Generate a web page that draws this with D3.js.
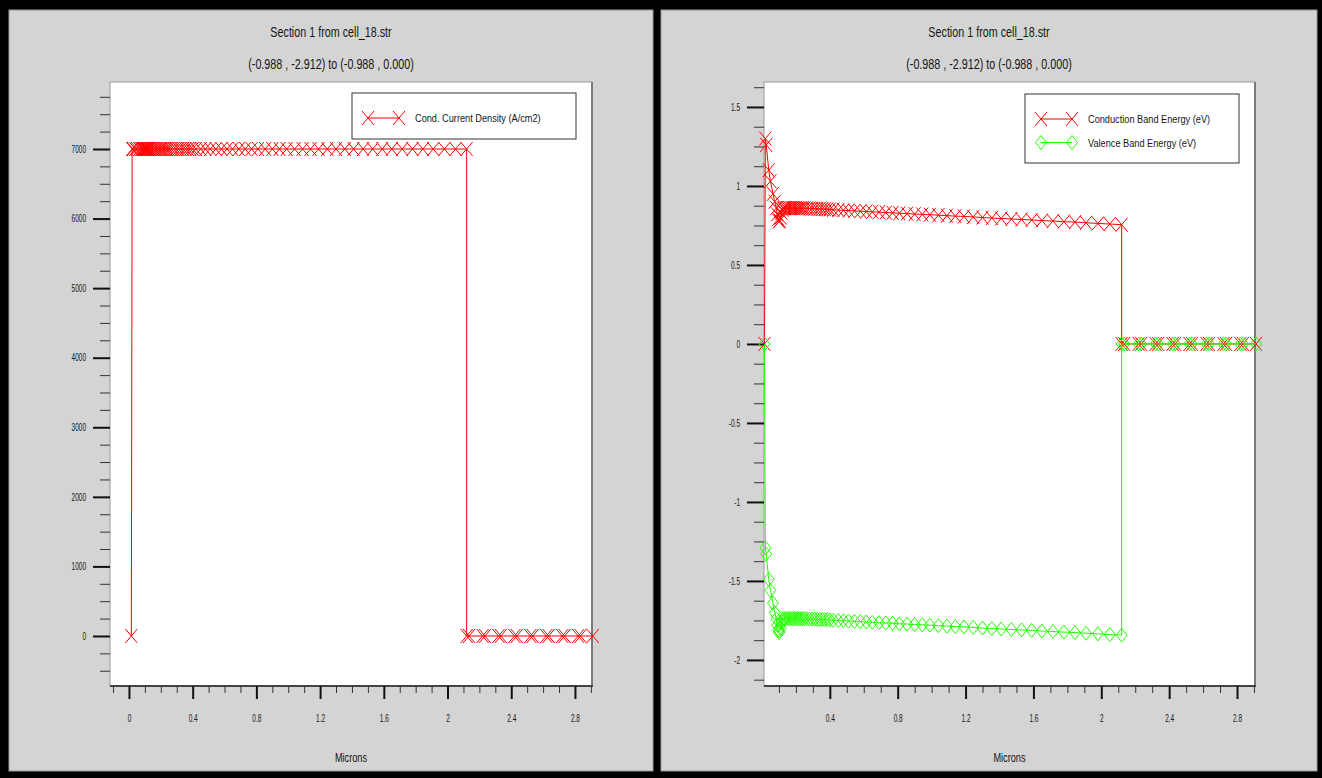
<!DOCTYPE html>
<html>
<head>
<meta charset="utf-8">
<script src="https://cdn.jsdelivr.net/npm/d3@7"></script>
<style>
  html, body { margin: 0; padding: 0; background: #000; }
  svg { display: block; }
</style>
</head>
<body>
<div id="app"></div>
<script>
const width = 1322;
const height = 778;
const font = "'Liberation Sans', Arial, sans-serif";

const title = 'Section 1 from cell_18.str';
const subtitle = '(-0.988 , -2.912) to (-0.988 , 0.000)';
const xLabel = 'Microns';

// positions along the cut line (microns), shared by all three curves
const sectionX = [
  0.015, 0.02, 0.025, 0.04, 0.05, 0.065, 0.075, 0.085, 0.09, 0.095, 0.1, 0.105, 0.11, 0.115, 0.12, 0.125,
  0.13, 0.14, 0.15, 0.16, 0.17, 0.18, 0.19, 0.2, 0.21, 0.22, 0.23, 0.24, 0.25,
  0.265, 0.28, 0.295, 0.31, 0.325, 0.34, 0.355, 0.37, 0.385, 0.4, 0.42,
  0.45, 0.48, 0.51, 0.545, 0.58, 0.615, 0.65, 0.69, 0.73, 0.77, 0.81, 0.855, 0.9, 0.945, 0.99,
  1.04, 1.09, 1.14, 1.19, 1.245, 1.3, 1.355, 1.41, 1.47, 1.53, 1.59, 1.65, 1.715, 1.78, 1.845,
  1.91, 1.98, 2.05, 2.12,
  2.12, 2.135, 2.22, 2.235, 2.32, 2.335, 2.42, 2.435, 2.52, 2.535, 2.62, 2.635, 2.72, 2.735, 2.82, 2.835, 2.912
];

const currentDensity = [
  0, 7000, 7000, 7000, 7000, 7000, 7000, 7000, 7000, 7000, 7000, 7000, 7000, 7000, 7000, 7000,
  7000, 7000, 7000, 7000, 7000, 7000, 7000, 7000, 7000, 7000, 7000, 7000, 7000,
  7000, 7000, 7000, 7000, 7000, 7000, 7000, 7000, 7000, 7000, 7000,
  7000, 7000, 7000, 7000, 7000, 7000, 7000, 7000, 7000, 7000, 7000, 7000, 7000, 7000, 7000,
  7000, 7000, 7000, 7000, 7000, 7000, 7000, 7000, 7000, 7000, 7000, 7000, 7000, 7000, 7000,
  7000, 7000, 7000, 7000,
  0, 0, 0, 0, 0, 0, 0, 0, 0, 0, 0, 0, 0, 0, 0, 0, 0
];

const conductionBand = [
  0, 1.30, 1.26, 1.10, 1.03, 0.95, 0.90, 0.86, 0.82, 0.79, 0.775, 0.78, 0.80, 0.83, 0.85, 0.858,
  0.860, 0.860, 0.860, 0.860, 0.860, 0.860, 0.860, 0.860, 0.859, 0.859, 0.859, 0.859, 0.859,
  0.858, 0.857, 0.857, 0.856, 0.855, 0.855, 0.854, 0.853, 0.852, 0.851, 0.849,
  0.847, 0.846, 0.844, 0.842, 0.840, 0.838, 0.836, 0.834, 0.832, 0.830, 0.827, 0.825, 0.822, 0.820, 0.818,
  0.815, 0.812, 0.809, 0.807, 0.804, 0.800, 0.797, 0.794, 0.791, 0.788, 0.785, 0.781, 0.778, 0.774, 0.771,
  0.767, 0.763, 0.759, 0.755,
  0, 0, 0, 0, 0, 0, 0, 0, 0, 0, 0, 0, 0, 0, 0, 0, 0
];

const valenceBand = [
  0, -1.29, -1.33, -1.49, -1.56, -1.64, -1.70, -1.74, -1.78, -1.81, -1.825, -1.82, -1.80, -1.77, -1.75, -1.742,
  -1.738, -1.738, -1.738, -1.738, -1.738, -1.738, -1.738, -1.738, -1.739, -1.739, -1.739, -1.739, -1.739,
  -1.740, -1.741, -1.741, -1.742, -1.743, -1.743, -1.744, -1.745, -1.746, -1.747, -1.749,
  -1.751, -1.752, -1.754, -1.756, -1.758, -1.760, -1.762, -1.764, -1.766, -1.768, -1.771, -1.773, -1.776, -1.778, -1.780,
  -1.783, -1.786, -1.789, -1.791, -1.794, -1.798, -1.801, -1.804, -1.807, -1.810, -1.813, -1.817, -1.820, -1.824, -1.827,
  -1.831, -1.835, -1.839, -1.843,
  0, 0, 0, 0, 0, 0, 0, 0, 0, 0, 0, 0, 0, 0, 0, 0, 0
];

const currentTicks = [0, 1000, 2000, 3000, 4000, 5000, 6000, 7000];
const energyTicks = [-2, -1.5, -1, -0.5, 0, 0.5, 1, 1.5];
const micronTicks = [0, 0.4, 0.8, 1.2, 1.6, 2, 2.4, 2.8];

const svg = d3.select('#app').append('svg')
  .attr('width', width)
  .attr('height', height)
  .style('background', '#000');

// squeezed text, the original plot uses a narrow face
const label = (g, x, y, str, { size = 13, anchor = 'middle', squeeze = 0.78 } = {}) =>
  g.append('text')
    .attr('transform', `translate(${x},${y}) scale(${squeeze},1)`)
    .attr('text-anchor', anchor)
    .attr('font-family', font)
    .attr('font-size', size)
    .attr('fill', '#151515')
    .text(str);

const markerPath = {
  x: 'M-6,-7L6,7M-6,7L6,-7',
  diamond: 'M0,-7L5.5,0L0,7L-5.5,0Z'
};

const drawPanel = ({ box, plot, xDomain, yDomain, yMajor, yMinorStep, series, legend }) => {
  const g = svg.append('g');

  g.append('rect')
    .attr('x', box[0]).attr('y', 10)
    .attr('width', box[1] - box[0]).attr('height', 761)
    .attr('fill', '#d4d4d4')
    .attr('stroke', '#9a9a9a');

  const mid = (box[0] + box[1]) / 2;
  label(g, mid, 37, title, { size: 13.8 });
  label(g, mid, 69, subtitle, { size: 13.8 });

  const x = d3.scaleLinear().domain(xDomain).range([plot.left, plot.right]);
  const y = d3.scaleLinear().domain(yDomain).range([plot.bottom, plot.top]);

  g.append('rect')
    .attr('x', plot.left).attr('y', plot.top)
    .attr('width', plot.right - plot.left).attr('height', plot.bottom - plot.top)
    .attr('fill', '#fff')
    .attr('stroke', '#9a9a9a');
  g.append('line')
    .attr('x1', plot.right).attr('x2', plot.right)
    .attr('y1', plot.top).attr('y2', plot.bottom)
    .attr('stroke', '#7a7a7a').attr('stroke-width', 2);
  g.append('line')
    .attr('x1', plot.left).attr('x2', plot.right + 1)
    .attr('y1', plot.bottom).attr('y2', plot.bottom)
    .attr('stroke', '#444').attr('stroke-width', 2);

  // y axis: minor then major ticks
  const near = (a, b) => Math.abs(a - b) < 1e-9;
  const yMinor = d3.range(Math.ceil(yDomain[0] / yMinorStep), Math.floor(yDomain[1] / yMinorStep) + 1)
    .map(i => i * yMinorStep)
    .filter(v => !yMajor.some(m => near(m, v)));

  g.append('g')
    .attr('transform', `translate(${plot.left},0)`)
    .call(d3.axisLeft(y).tickValues(yMinor).tickSize(10).tickFormat(''))
    .call(a => a.select('.domain').remove())
    .call(a => a.selectAll('line').attr('stroke', '#333'));

  g.append('g')
    .attr('transform', `translate(${plot.left},0)`)
    .attr('font-family', font)
    .attr('font-size', 14)
    .call(d3.axisLeft(y).tickValues(yMajor).tickSize(17).tickFormat(d => String(d)))
    .call(a => a.select('.domain').remove())
    .call(a => a.selectAll('line').attr('stroke', '#111').attr('stroke-width', 2))
    .call(a => a.selectAll('text')
      .attr('fill', '#151515')
      .attr('x', -24 / 0.65)
      .attr('transform', 'scale(0.65,1)'));

  // x axis
  const xMinor = d3.range(-10, 30)
    .map(i => i / 10)
    .filter(v => v >= xDomain[0] && v <= xDomain[1])
    .filter(v => !micronTicks.some(m => near(m, v)));
  const xMajor = micronTicks.filter(v => v >= xDomain[0] && v <= xDomain[1]);

  g.append('g')
    .attr('transform', `translate(0,${plot.bottom})`)
    .call(d3.axisBottom(x).tickValues(xMinor).tickSize(7).tickFormat(''))
    .call(a => a.select('.domain').remove())
    .call(a => a.selectAll('line').attr('stroke', '#333'));

  g.append('g')
    .attr('transform', `translate(0,${plot.bottom})`)
    .attr('font-family', font)
    .attr('font-size', 14)
    .call(d3.axisBottom(x).tickValues(xMajor).tickSize(13).tickPadding(16).tickFormat(d => String(d)))
    .call(a => a.select('.domain').remove())
    .call(a => a.selectAll('line').attr('stroke', '#111').attr('stroke-width', 2))
    .call(a => a.selectAll('text')
      .attr('fill', '#151515')
      .attr('transform', 'scale(0.65,1)'));

  label(g, (plot.left + plot.right) / 2, 762, xLabel, { size: 13.5, squeeze: 0.68 });

  // curves
  series.forEach(s => {
    const pts = sectionX.map((v, i) => [x(v), y(s.values[i])]);
    g.append('path')
      .attr('d', d3.line()(pts))
      .attr('fill', 'none')
      .attr('stroke', s.color)
      .attr('stroke-width', 1);
    g.append('g')
      .selectAll('path')
      .data(pts)
      .join('path')
      .attr('transform', d => `translate(${d[0]},${d[1]})`)
      .attr('d', markerPath[s.marker])
      .attr('fill', 'none')
      .attr('stroke', s.color)
      .attr('stroke-width', 1);
  });

  // legend
  g.append('rect')
    .attr('x', legend.box[0]).attr('y', legend.box[1])
    .attr('width', legend.box[2] - legend.box[0]).attr('height', legend.box[3] - legend.box[1])
    .attr('fill', '#fff')
    .attr('stroke', '#333');

  series.forEach((s, i) => {
    const ly = legend.rows[i];
    const lx = legend.box[0] + 16;
    g.append('line')
      .attr('x1', lx).attr('x2', lx + 31)
      .attr('y1', ly).attr('y2', ly)
      .attr('stroke', s.color);
    [lx, lx + 31].forEach(px => g.append('path')
      .attr('transform', `translate(${px},${ly})`)
      .attr('d', markerPath[s.marker])
      .attr('fill', 'none')
      .attr('stroke', s.color));
    label(g, legend.box[0] + 63, ly + 4, s.name, { size: 11.5, anchor: 'start', squeeze: 0.8 });
  });
};

drawPanel({
  box: [9, 653],
  plot: { left: 110, right: 592, top: 82, bottom: 686 },
  xDomain: [-0.119, 2.907],
  yDomain: [-719, 7963],
  yMajor: currentTicks,
  yMinorStep: 250,
  series: [
    { name: 'Cond. Current Density (A/cm2)', values: currentDensity, color: '#ff0000', marker: 'x' }
  ],
  legend: { box: [352, 93, 576, 139], rows: [118] }
});

drawPanel({
  box: [661, 1317],
  plot: { left: 764, right: 1255, top: 82, bottom: 686 },
  xDomain: [0.012, 2.906],
  yDomain: [-2.165, 1.658],
  yMajor: energyTicks,
  yMinorStep: 0.125,
  series: [
    { name: 'Conduction Band Energy (eV)', values: conductionBand, color: '#ff0000', marker: 'x' },
    { name: 'Valence Band Energy (eV)', values: valenceBand, color: '#22ff00', marker: 'diamond' }
  ],
  legend: { box: [1025, 94, 1239, 163], rows: [119, 142.5] }
});
</script>
</body>
</html>
